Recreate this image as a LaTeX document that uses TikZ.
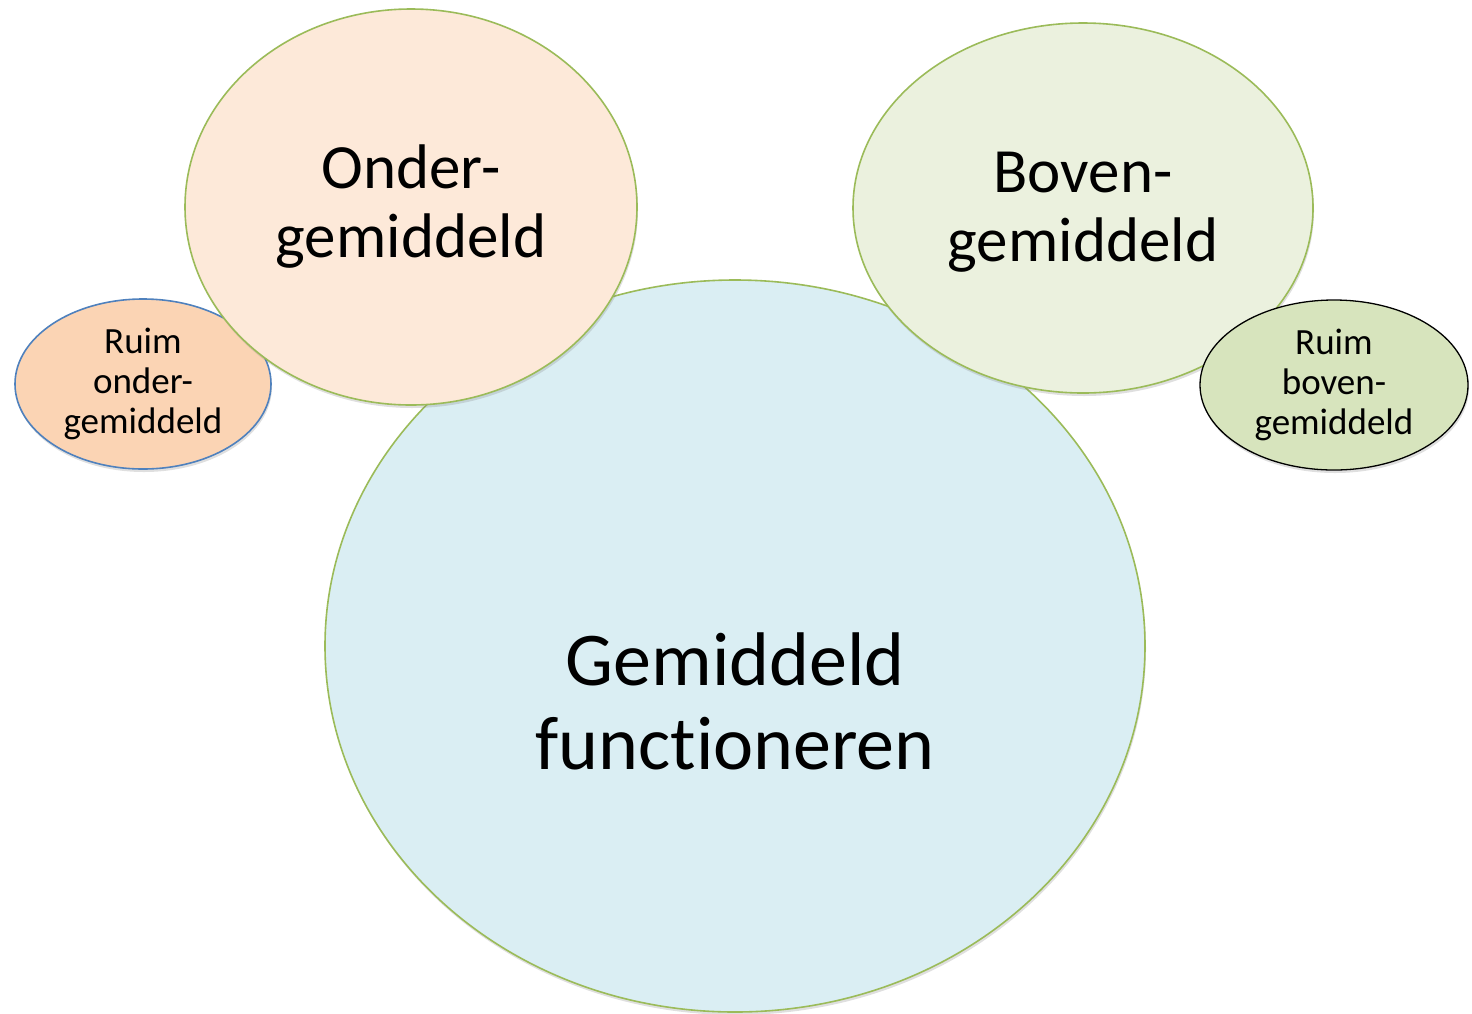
\documentclass[tikz,border=0pt]{standalone}
\usepackage{fontspec}
\setmainfont[RawFeature={-liga;-calt;-clig;-dlig}]{Carlito}
\usetikzlibrary{shapes.geometric,shadows}
\definecolor{bluefill}{HTML}{DAEEF3}
\definecolor{grline}{HTML}{9BBB59}
\definecolor{orfill}{HTML}{FDE9D9}
\definecolor{gnfill}{HTML}{EBF1DE}
\definecolor{orfill2}{HTML}{FBD4B4}
\definecolor{gnfill2}{HTML}{D7E4BD}
\definecolor{blline}{HTML}{4F81BD}
\tikzset{
  blob/.style={ellipse, inner sep=0pt, line width=1.6pt, align=center,
    drop shadow={opacity=0.25, shadow xshift=1pt, shadow yshift=-3pt}},
  label text/.style={inner sep=0pt, align=center},
}
\begin{document}
\begin{tikzpicture}[x=1pt,y=-1pt]
\useasboundingbox (0,0) rectangle (1472,1013);
\node[blob, draw=blline, fill=orfill2, minimum width=256pt, minimum height=170pt,
  font=\fontsize{37}{40}\selectfont] (ro) at (143,384) {Ruim\\onder-\\gemiddeld};
\node[blob, draw=grline, fill=bluefill, minimum width=820pt, minimum height=732pt] (gem) at (735,646) {};
\node[label text, font=\fontsize{76}{84}\selectfont] (gemtext) at (735,701) {Gemiddeld\\funct\kern0pt ioneren};
\node[blob, draw=grline, fill=orfill, minimum width=452pt, minimum height=396pt,
  font=\fontsize{63}{69}\selectfont] (onder) at (411,207) {Onder-\\gemiddeld};
\node[blob, draw=grline, fill=gnfill, minimum width=460pt, minimum height=370pt] (boven) at (1083,208) {};
\node[label text, font=\fontsize{63}{69}\selectfont] (boventext) at (1083,212) {Boven-\\gemiddeld};
\node[blob, draw=black, line width=1.3pt, fill=gnfill2, minimum width=268pt, minimum height=170pt,
  font=\fontsize{37}{40}\selectfont] (rb) at (1334,385) {Ruim\\boven-\\gemiddeld};
\end{tikzpicture}
\end{document}
